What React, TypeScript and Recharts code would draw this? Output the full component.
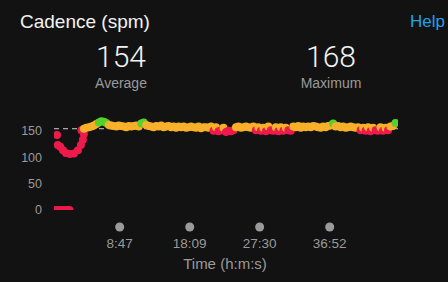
import { ScatterChart, Scatter, XAxis, YAxis, ReferenceLine } from "recharts";

// ─── Data ────────────────────────────────────────────────────────────────────

// warm-up section: standing still (0 spm) and slow strides before the run
const WARMUP_TIMES = [12, 30, 50, 70, 90, 110, 124, 24, 30, 50, 72, 96, 128, 160, 192, 216, 232, 240];
const WARMUP_CADENCE = [0, 0, 0, 0, 0, 0, 0, 142, 123, 120, 113, 108, 106, 107, 113, 123, 133, 144];

// main run, one sample every 20 s starting at 3:40
const RUN_START = 220;
const RUN_STEP = 20;
const RUN_CADENCE = [
  151, 154, 156, 157, 158, 160, 163, 166, 168, 167,
  165, 161, 160, 159, 158, 160, 159, 158, 157, 159,
  158, 159, 160, 158, 164, 166, 161, 159, 158, 157,
  159, 158, 160, 157, 158, 159, 157, 158, 156, 158,
  157, 158, 156, 157, 158, 157, 156, 158, 155, 157,
  157, 156, 158, 150, 157, 149, 151, 156, 148, 150,
  149, 151, 157, 158, 156, 157, 158, 157, 156, 158,
  151, 157, 150, 156, 149, 158, 151, 150, 157, 149,
  157, 150, 156, 151, 150, 158, 157, 159, 156, 158,
  157, 158, 157, 159, 158, 157, 156, 158, 157, 159,
  160, 164, 158, 159, 157, 158, 156, 157, 158, 157,
  156, 157, 151, 156, 150, 157, 149, 156, 151, 150,
  157, 150, 156, 151, 158, 159, 165,
];

const X_TICKS = [527, 1089, 1650, 2212];
const Y_TICKS = [0, 50, 100, 150];
const AVERAGE = 154;
const MAXIMUM = 168;

// ─── Helpers ─────────────────────────────────────────────────────────────────

function zoneColor(spm: number) {
  if (spm >= 164) return "#56d12b";
  if (spm >= 153) return "#f8b02a";
  return "#ee1a4b";
}

function formatTime(sec: number) {
  const m = Math.floor(sec / 60);
  const s = sec % 60;
  return `${m}:${s.toString().padStart(2, "0")}`;
}

const points = [
  ...WARMUP_TIMES.map((t, i) => ({ t, spm: WARMUP_CADENCE[i] })),
  ...RUN_CADENCE.map((spm, i) => ({ t: RUN_START + i * RUN_STEP, spm })),
].map((p) => ({ ...p, color: zoneColor(p.spm) }));

const FONT = "'Liberation Sans', Arial, sans-serif";

function Dot(props: any) {
  const { cx, cy, payload } = props;
  return <circle cx={cx} cy={cy} r={4} fill={payload.color} />;
}

function TimeTick(props: any) {
  const { x, y, payload } = props;
  return (
    <g>
      <circle cx={x} cy={y + 17} r={4.5} fill="#9a9a9a" />
      <text x={x} y={y + 38} textAnchor="middle" fontSize={13.5} fontFamily={FONT} fill="#9a9a9a">
        {formatTime(payload.value)}
      </text>
    </g>
  );
}

// ─── App ─────────────────────────────────────────────────────────────────────

export default function App() {
  return (
    <div
      style={{
        position: "absolute",
        top: 0,
        left: 0,
        width: 448,
        height: 282,
        background: "#121212",
        fontFamily: FONT,
        overflow: "hidden",
      }}
    >
      <div style={{ position: "absolute", left: 20, top: 11, fontSize: 19, color: "#f2f2f2" }}>
        Cadence (spm)
      </div>
      <div style={{ position: "absolute", right: 3, top: 12, fontSize: 17, color: "#1fa2e8" }}>
        Help
      </div>

      {[
        { value: AVERAGE, label: "Average", cx: 121 },
        { value: MAXIMUM, label: "Maximum", cx: 331 },
      ].map((s) => (
        <div
          key={s.label}
          style={{ position: "absolute", left: s.cx - 60, width: 120, top: 40, textAlign: "center" }}
        >
          <div style={{ fontFamily: "Roboto, sans-serif", fontWeight: 300, fontSize: 30, color: "#f2f2f2", lineHeight: "34px" }}>
            {s.value}
          </div>
          <div style={{ fontSize: 14, color: "#9a9a9a", lineHeight: "18px" }}>{s.label}</div>
        </div>
      ))}

      <div style={{ position: "absolute", left: 0, top: 0 }}>
        <ScatterChart width={448} height={282} margin={{ top: 115, right: 50, bottom: 42, left: 0 }}>
          <XAxis
            type="number"
            dataKey="t"
            domain={[0, 2760]}
            ticks={X_TICKS}
            height={30}
            axisLine={false}
            tickLine={false}
            tickSize={0}
            tickMargin={0}
            tick={<TimeTick />}
            allowDataOverflow
          />
          <YAxis
            type="number"
            dataKey="spm"
            domain={[0, 180]}
            ticks={Y_TICKS}
            width={54}
            axisLine={false}
            tickLine={false}
            tickSize={0}
            tickMargin={12}
            tick={{ fontSize: 12.5, fill: "#9a9a9a", fontFamily: FONT }}
            allowDataOverflow
          />
          <ReferenceLine y={AVERAGE} stroke="#cfcfcf" strokeDasharray="5 4" strokeWidth={1} />
          <Scatter data={points} shape={<Dot />} isAnimationActive={false} />
        </ScatterChart>
      </div>

      <div
        style={{
          position: "absolute",
          left: 0,
          width: 450,
          top: 255,
          textAlign: "center",
          fontSize: 15,
          color: "#9a9a9a",
        }}
      >
        Time (h:m:s)
      </div>
    </div>
  );
}
